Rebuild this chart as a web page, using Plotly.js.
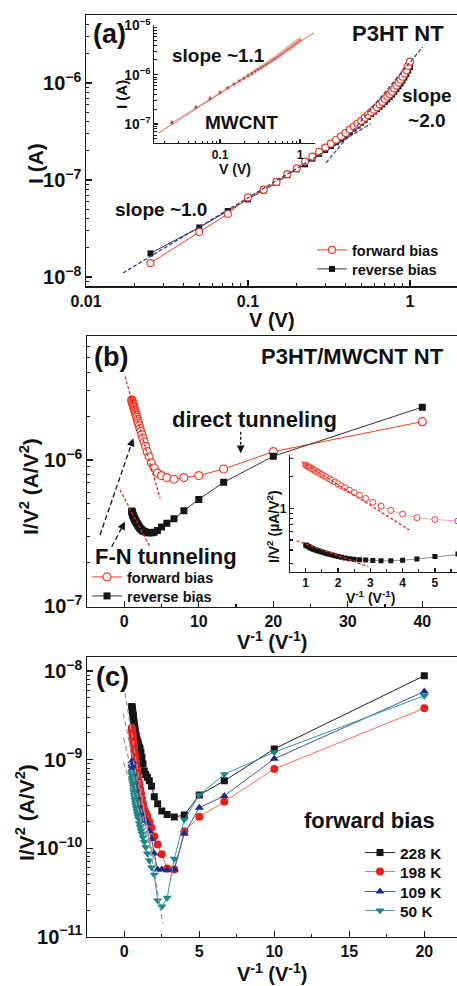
<!DOCTYPE html>
<html>
<head>
<meta charset="utf-8">
<script src="https://cdn.plot.ly/plotly-3.0.1.min.js"></script>
<style>
  html, body { margin: 0; padding: 0; background: #fff; overflow: hidden; }
  #chart { width: 470px; height: 986px; }
</style>
</head>
<body>
<div id="chart"></div>
<script>
// ---------------- Panel (a): I-V of P3HT NT (log-log) ----------------
const biasV = [0.025,0.05,0.075,0.1,0.125,0.15,0.175,0.2,0.225,0.25,0.275,0.3,0.325,0.35,0.375,0.4,0.425,0.45,0.475,0.5,
               0.525,0.55,0.575,0.6,0.625,0.65,0.675,0.7,0.725,0.75,0.775,0.8,0.825,0.85,0.875,0.9,0.925,0.95,0.975,1.0];
const fwdI_a = [1.39e-8,2.91e-8,4.47e-8,6.61e-8,7.94e-8,9.55e-8,1.15e-7,1.32e-7,1.55e-7,1.74e-7,1.95e-7,2.16e-7,2.37e-7,2.60e-7,2.82e-7,3.05e-7,3.31e-7,3.55e-7,3.80e-7,4.07e-7,
                4.37e-7,4.68e-7,5.01e-7,5.31e-7,5.62e-7,6.03e-7,6.38e-7,6.84e-7,7.24e-7,7.67e-7,8.13e-7,8.75e-7,9.40e-7,1.01e-6,1.08e-6,1.16e-6,1.25e-6,1.35e-6,1.50e-6,1.66e-6];
const revI_a = [1.75e-8,3.24e-8,4.79e-8,6.31e-8,7.76e-8,9.33e-8,1.12e-7,1.29e-7,1.45e-7,1.66e-7,1.86e-7,2.04e-7,2.24e-7,2.45e-7,2.66e-7,2.88e-7,3.13e-7,3.39e-7,3.63e-7,3.89e-7,
                4.17e-7,4.47e-7,4.79e-7,5.07e-7,5.37e-7,5.69e-7,6.03e-7,6.38e-7,6.76e-7,7.16e-7,7.60e-7,8.10e-7,8.65e-7,9.25e-7,9.90e-7,1.06e-6,1.14e-6,1.23e-6,1.34e-6,1.46e-6];
const fitLowV = [0.0169, 0.574],  fitLowI = [1.1e-8, 3.8e-7];     // slope ~1.0
const fitHighV = [0.303, 1.2],    fitHighI = [1.5e-7, 2.35e-6];   // slope ~2.0
// inset (a): MWCNT
const insetFwdI = [1.07e-7,2.19e-7,3.31e-7,4.37e-7,5.43e-7,6.46e-7,7.50e-7,8.51e-7,9.66e-7,1.07e-6,1.19e-6,1.30e-6,1.41e-6,1.53e-6,1.64e-6,1.76e-6,1.88e-6,2.00e-6,2.11e-6,2.24e-6,
                   2.37e-6,2.51e-6,2.63e-6,2.79e-6,2.92e-6,3.05e-6,3.20e-6,3.35e-6,3.47e-6,3.63e-6,3.76e-6,3.94e-6,4.07e-6,4.22e-6,4.42e-6,4.57e-6,4.73e-6,4.90e-6,5.01e-6,5.19e-6];
const insetRevI = [1.07e-7,2.17e-7,3.28e-7,4.35e-7,5.40e-7,6.42e-7,7.45e-7,8.45e-7,9.58e-7,1.06e-6,1.17e-6,1.28e-6,1.38e-6,1.49e-6,1.60e-6,1.71e-6,1.82e-6,1.93e-6,2.04e-6,2.16e-6,
                   2.28e-6,2.41e-6,2.53e-6,2.67e-6,2.80e-6,2.93e-6,3.07e-6,3.21e-6,3.33e-6,3.48e-6,3.61e-6,3.77e-6,3.90e-6,4.04e-6,4.22e-6,4.37e-6,4.52e-6,4.68e-6,4.80e-6,4.96e-6];
const insetFitV = [0.0174, 1.5], insetFitI = [6.7e-8, 7.1e-6];    // slope ~1.1

// ---------------- Panel (b): I/V^2 vs 1/V, P3HT/MWCNT NT ----------------
const invV_b = [1,1.026,1.053,1.081,1.111,1.143,1.176,1.212,1.25,1.29,1.333,1.379,1.429,1.481,1.538,1.6,1.667,1.739,1.818,1.905,
                2,2.105,2.222,2.353,2.5,2.667,2.857,3.077,3.333,3.636,4,4.444,5,5.714,6.667,8,10,13.333,20,40];
const fwdIV2_b = [2.58e-6,2.55e-6,2.52e-6,2.49e-6,2.47e-6,2.43e-6,2.40e-6,2.36e-6,2.32e-6,2.29e-6,2.24e-6,2.20e-6,2.16e-6,2.11e-6,2.07e-6,2.01e-6,1.96e-6,1.90e-6,1.84e-6,1.78e-6,
                  1.71e-6,1.64e-6,1.57e-6,1.49e-6,1.41e-6,1.33e-6,1.24e-6,1.14e-6,1.05e-6,9.55e-7,8.81e-7,8.13e-7,7.82e-7,7.57e-7,7.38e-7,7.57e-7,7.82e-7,8.67e-7,1.14e-6,1.83e-6];
const revIV2_b = [4.47e-7,4.42e-7,4.37e-7,4.32e-7,4.27e-7,4.22e-7,4.17e-7,4.12e-7,4.07e-7,4.03e-7,3.98e-7,3.94e-7,3.89e-7,3.85e-7,3.80e-7,3.76e-7,3.70e-7,3.65e-7,3.59e-7,3.53e-7,
                  3.47e-7,3.41e-7,3.36e-7,3.31e-7,3.27e-7,3.24e-7,3.21e-7,3.18e-7,3.16e-7,3.17e-7,3.20e-7,3.29e-7,3.47e-7,3.68e-7,3.96e-7,4.49e-7,5.37e-7,7.03e-7,1.06e-6,2.30e-6];
const fnFwdU = [0.09, 4.8],   fnFwdY = [3.72e-6, 5.47e-7];
const fnRevU = [-0.58, 3.36], fnRevY = [6.24e-7, 2.58e-7];
const fnInFwdU = [0.876, 4.21], fnInFwdY = [2.78e-6, 6.21e-7];
const fnInRevU = [0.72, 2.94],  fnInRevY = [4.91e-7, 2.78e-7];

// ---------------- Panel (c): forward bias at several temperatures ----------------
const invV_c = [0.5,0.513,0.526,0.541,0.556,0.571,0.588,0.606,0.625,0.645,0.667,0.69,0.714,0.741,0.769,0.8,0.833,0.87,0.909,0.952,
                1,1.053,1.111,1.176,1.25,1.333,1.429,1.538,1.667,1.818,2,2.222,2.5,2.857,3.333,4,5,6.667,10,20];
const c228K = [3.98e-9,3.89e-9,3.80e-9,3.63e-9,3.47e-9,3.31e-9,3.16e-9,3.02e-9,2.82e-9,2.63e-9,2.45e-9,2.29e-9,2.19e-9,2.04e-9,1.91e-9,1.82e-9,1.70e-9,1.62e-9,1.58e-9,1.48e-9,
               1.38e-9,1.32e-9,1.20e-9,1.05e-9,8.91e-10,7.41e-10,6.76e-10,6.31e-10,5.75e-10,5.01e-10,3.80e-10,3.16e-10,2.63e-10,2.40e-10,2.24e-10,2.37e-10,3.98e-10,5.75e-10,1.32e-9,8.85e-9];
const c198K = [2.29e-9,2.19e-9,2.09e-9,1.95e-9,1.86e-9,1.74e-9,1.66e-9,1.55e-9,1.45e-9,1.35e-9,1.26e-9,1.17e-9,1.10e-9,1.00e-9,9.33e-10,8.51e-10,7.76e-10,7.08e-10,6.46e-10,5.75e-10,
               5.25e-10,4.68e-10,4.17e-10,3.63e-10,3.16e-10,2.75e-10,2.51e-10,2.29e-10,2.00e-10,1.70e-10,1.35e-10,1.10e-10,8.51e-11,5.89e-11,5.75e-11,1.55e-10,2.26e-10,3.35e-10,7.83e-10,3.80e-9];
const c109K = [9.55e-10,8.91e-10,8.51e-10,7.94e-10,7.41e-10,7.08e-10,6.61e-10,6.17e-10,5.75e-10,5.37e-10,5.01e-10,4.68e-10,4.37e-10,4.07e-10,3.80e-10,3.55e-10,3.31e-10,3.16e-10,3.02e-10,2.82e-10,
               2.69e-10,2.57e-10,2.45e-10,2.34e-10,2.24e-10,2.14e-10,2.04e-10,1.91e-10,1.55e-10,1.26e-10,8.71e-11,5.75e-11,5.75e-11,5.62e-11,5.75e-11,1.45e-10,2.86e-10,3.89e-10,1.02e-9,5.85e-9];
const c50K  = [7.24e-10,6.92e-10,6.61e-10,6.17e-10,5.89e-10,5.50e-10,5.25e-10,4.90e-10,4.57e-10,4.27e-10,3.98e-10,3.72e-10,3.47e-10,3.24e-10,3.02e-10,2.82e-10,2.63e-10,2.45e-10,2.29e-10,2.14e-10,
               1.91e-10,1.74e-10,1.58e-10,1.45e-10,1.32e-10,1.17e-10,1.02e-10,8.71e-11,7.24e-11,6.03e-11,5.01e-11,2.57e-11,2.19e-11,2.75e-11,7.59e-11,2.09e-10,3.98e-10,6.82e-10,1.21e-9,5.26e-9];
const tempLabels = ['228 K', '198 K', '109 K', '50 K'];
const cFitU = [[0.05, 2.56], [-0.07, 2.16], [-0.05, 1.9], [-0.05, 1.7]];
const cFitY = [[5.62e-9, 1.41e-11], [3.31e-9, 5.5e-11], [1.74e-9, 7.94e-11], [9.33e-10, 1.0e-10]];

// ---------------- layout helpers ----------------
const W = 470, H = 986;
const FONT = 'Liberation Sans, Arial, Helvetica, sans-serif';
const px = v => v / W;
const py = v => 1 - v / H;
const RED = '#f03c2a', BLACK = '#151515', BLUE = '#2e3a8c';

function ax(extra) {
  return Object.assign({
    showline: true, linecolor: '#1a1a1a', linewidth: 1.5,
    ticks: 'inside', ticklen: 6, tickwidth: 1.2, tickcolor: '#1a1a1a',
    showgrid: false, zeroline: false, fixedrange: true,
    tickfont: { family: FONT, size: 16, color: '#111', weight: 'bold' }
  }, extra);
}
const minorLog = { ticks: 'inside', ticklen: 3, tickwidth: 1, tickcolor: '#1a1a1a', dtick: 'D1', showgrid: false };

function ann(text, x, y, size, extra) {
  return Object.assign({
    xref: 'paper', yref: 'paper', x: px(x), y: py(y), xanchor: 'center', yanchor: 'middle',
    showarrow: false, text: '<b>' + text + '</b>',
    font: { family: FONT, size: size, color: '#111' }
  }, extra || {});
}
// one legend box per row, so that each row sits where the reference puts it
function legendRow(x, y, size) {
  return { x: px(x), y: py(y), xanchor: 'left', yanchor: 'middle', bgcolor: 'rgba(0,0,0,0)',
    borderwidth: 0, font: { family: FONT, size: size, color: '#111', weight: 'bold' } };
}

const traces = [];
// (a) main
traces.push({ x: biasV, y: revI_a, xaxis: 'x', yaxis: 'y', mode: 'lines+markers', name: 'reverse bias', legend: 'legend2',
  line: { color: '#333', width: 1 }, marker: { symbol: 'square', size: 6, color: BLACK } });
traces.push({ x: biasV, y: fwdI_a, xaxis: 'x', yaxis: 'y', mode: 'lines+markers', name: 'forward bias', legend: 'legend',
  line: { color: RED, width: 1 }, marker: { symbol: 'circle', size: 7, color: '#fff', line: { color: RED, width: 1.2 } } });
[[fitLowV, fitLowI], [fitHighV, fitHighI]].forEach(f => traces.push({
  x: f[0], y: f[1], xaxis: 'x', yaxis: 'y', mode: 'lines', showlegend: false,
  line: { color: BLUE, width: 1.2, dash: '4px,2px' } }));
// (a) inset
traces.push({ x: biasV, y: insetRevI, xaxis: 'x2', yaxis: 'y2', mode: 'lines+markers', showlegend: false,
  line: { color: '#888', width: 0.7 }, marker: { symbol: 'square', size: 2.5, color: '#555' } });
traces.push({ x: biasV, y: insetFwdI, xaxis: 'x2', yaxis: 'y2', mode: 'markers', showlegend: false,
  marker: { symbol: 'circle-open', size: 4, color: '#f2a59c', line: { width: 0.8 } } });
traces.push({ x: insetFitV, y: insetFitI, xaxis: 'x2', yaxis: 'y2', mode: 'lines', showlegend: false,
  line: { color: '#f0604c', width: 1 } });

// (b) main
traces.push({ x: invV_b, y: fwdIV2_b, xaxis: 'x3', yaxis: 'y3', mode: 'lines+markers', name: 'forward bias', legend: 'legend3',
  line: { color: RED, width: 1 }, marker: { symbol: 'circle', size: 8, color: '#fff', line: { color: RED, width: 1.2 } } });
traces.push({ x: invV_b, y: revIV2_b, xaxis: 'x3', yaxis: 'y3', mode: 'lines+markers', name: 'reverse bias', legend: 'legend4',
  line: { color: '#333', width: 1 }, marker: { symbol: 'square', size: 7, color: BLACK } });
[[fnFwdU, fnFwdY], [fnRevU, fnRevY]].forEach(f => traces.push({
  x: f[0], y: f[1], xaxis: 'x3', yaxis: 'y3', mode: 'lines', showlegend: false,
  line: { color: '#e8281c', width: 1.3, dash: '3px,2px' } }));
// (b) inset
traces.push({ x: invV_b, y: fwdIV2_b, xaxis: 'x4', yaxis: 'y4', mode: 'lines+markers', showlegend: false,
  line: { color: '#f59a8f', width: 0.8 }, marker: { symbol: 'circle', size: 6, color: '#fff', line: { color: RED, width: 1 } } });
traces.push({ x: invV_b, y: revIV2_b, xaxis: 'x4', yaxis: 'y4', mode: 'lines+markers', showlegend: false,
  line: { color: '#777', width: 0.8 }, marker: { symbol: 'square', size: 5, color: BLACK } });
[[fnInFwdU, fnInFwdY], [fnInRevU, fnInRevY]].forEach(f => traces.push({
  x: f[0], y: f[1], xaxis: 'x4', yaxis: 'y4', mode: 'lines', showlegend: false,
  line: { color: '#e8281c', width: 1.3, dash: '3px,2px' } }));

// (c)
const cSeries = [c228K, c198K, c109K, c50K];
const cMarkers = [
  { symbol: 'square', size: 7, color: BLACK, line: '#222' },
  { symbol: 'circle', size: 8, color: '#ee1d1d', line: '#f26a58' },
  { symbol: 'triangle-up', size: 8, color: '#1c2a8c', line: '#4654a6' },
  { symbol: 'triangle-down', size: 8, color: '#17888a', line: '#2d9d9d' }
];
cSeries.forEach((s, i) => traces.push({
  x: invV_c, y: s, xaxis: 'x5', yaxis: 'y5', mode: 'lines+markers', name: tempLabels[i], legend: 'legend' + (5 + i),
  line: { color: cMarkers[i].line, width: 1 },
  marker: { symbol: cMarkers[i].symbol, size: cMarkers[i].size, color: cMarkers[i].color }
}));
cFitU.forEach((u, i) => traces.push({
  x: u, y: cFitY[i], xaxis: 'x5', yaxis: 'y5', mode: 'lines', showlegend: false,
  line: { color: '#9a9a9a', width: 1.3, dash: '5px,3px' } }));

const layout = {
  width: W, height: H, margin: { l: 0, r: 0, t: 0, b: 0 },
  paper_bgcolor: '#fff', plot_bgcolor: 'rgba(0,0,0,0)',
  font: { family: FONT },
  xaxis: ax({ type: 'log', domain: [px(86), px(466)], range: [-2, 0.346], anchor: 'y', mirror: true,
    tickvals: [0.01, 0.1, 1], ticktext: ['0.01', '0.1', '1'], minor: minorLog }),
  yaxis: ax({ type: 'log', domain: [py(286), py(15)], range: [-8.093, -5.299], anchor: 'x', mirror: true,
    dtick: 1, exponentformat: 'power', minor: minorLog }),
  xaxis2: ax({ type: 'log', domain: [px(154), px(315)], range: [-1.825, 0.1875], anchor: 'y2',
    linewidth: 1.2, ticklen: 4, tickvals: [0.1, 1], ticktext: ['0.1', '1'],
    tickfont: { family: FONT, size: 12, color: '#111', weight: 'bold' },
    minor: Object.assign({}, minorLog, { ticklen: 2.5 }) }),
  yaxis2: ax({ type: 'log', domain: [py(143), py(25)], range: [-7.384, -4.99], anchor: 'x2',
    linewidth: 1.2, ticklen: 4, dtick: 1, exponentformat: 'power',
    tickfont: { family: FONT, size: 11, color: '#111', weight: 'bold' },
    minor: Object.assign({}, minorLog, { ticklen: 2.5 }) }),
  xaxis3: ax({ domain: [px(87), px(466)], range: [-5.01, 45.87], anchor: 'y3', mirror: true,
    dtick: 10, tick0: 0, minor: { ticks: 'inside', ticklen: 3, dtick: 5, tickcolor: '#1a1a1a' } }),
  yaxis3: ax({ type: 'log', domain: [py(606.7), py(336)], range: [-7.005, -5.151], anchor: 'x3', mirror: true,
    dtick: 1, exponentformat: 'power', minor: minorLog }),
  xaxis4: ax({ domain: [px(290), px(466)], range: [0.514, 5.963], anchor: 'y4', linewidth: 1.2, ticklen: 4,
    dtick: 1, tick0: 0, tickfont: { family: FONT, size: 12, color: '#111', weight: 'bold' },
    minor: { ticks: 'inside', ticklen: 2.5, dtick: 0.5, tickcolor: '#1a1a1a' } }),
  yaxis4: ax({ type: 'log', domain: [py(571.7), py(455)], range: [-6.604, -5.492], anchor: 'x4', linewidth: 1.2, ticklen: 4,
    tickmode: 'array', tickvals: [1e-6], ticktext: ['1'],
    tickfont: { family: FONT, size: 12, color: '#111', weight: 'bold' },
    minor: { ticks: 'inside', ticklen: 2.5, tickcolor: '#1a1a1a', tickmode: 'array',
      tickvals: [3e-7, 4e-7, 5e-7, 6e-7, 7e-7, 8e-7, 9e-7, 2e-6, 3e-6] } }),
  xaxis5: ax({ domain: [px(87), px(466)], range: [-2.487, 22.78], anchor: 'y5', mirror: true,
    dtick: 5, tick0: 0, minor: { ticks: 'inside', ticklen: 3, dtick: 2.5, tickcolor: '#1a1a1a' } }),
  yaxis5: ax({ type: 'log', domain: [py(936.7), py(657)], range: [-11.0, -7.842], anchor: 'x5', mirror: true,
    dtick: 1, exponentformat: 'power', minor: minorLog }),
  legend:  legendRow(312, 250, 14.5),
  legend2: legendRow(312, 269, 14.5),
  legend3: legendRow(87, 577, 14.5),
  legend4: legendRow(87, 596, 14.5),
  legend5: legendRow(360, 853, 15.5),
  legend6: legendRow(360, 872, 15.5),
  legend7: legendRow(360, 892, 15.5),
  legend8: legendRow(360, 911, 15.5),
  annotations: [
    // (a)
    ann('(a)', 109, 34, 27),
    ann('P3HT NT', 398, 33, 22),
    ann('slope ~1.1', 218, 55, 19),
    ann('MWCNT', 241, 122, 19),
    ann('slope ~1.0', 161, 209, 19),
    ann('slope<br>~2.0', 427, 108, 19),
    ann('I (A)', 35, 164, 21, { textangle: -90 }),
    ann('V (V)', 272, 320, 20),
    ann('I (A)', 122, 95, 15, { textangle: -90 }),
    ann('V (V)', 235, 169, 14),
    // (b)
    ann('(b)', 111, 357, 27),
    ann('P3HT/MWCNT NT', 352, 357, 22),
    ann('direct tunneling', 255, 419, 22),
    ann('F-N tunneling', 166, 556, 22),
    ann('I/V<sup>2</sup> (A/V<sup>2</sup>)', 29, 487, 21, { textangle: -90 }),
    ann('V<sup>-1</sup> (V<sup>-1</sup>)', 272, 640, 20),
    ann('I/V<sup>2</sup> (\u00b5A/V<sup>2</sup>)', 273, 527, 14, { textangle: -90 }),
    ann('V<sup>-1</sup> (V<sup>-1</sup>)', 370, 597, 14),
    // (c)
    ann('(c)', 112, 677, 27),
    ann('forward bias', 369, 820, 22),
    ann('I/V<sup>2</sup> (A/V<sup>2</sup>)', 25, 813, 21, { textangle: -90 }),
    ann('V<sup>-1</sup> (V<sup>-1</sup>)', 272, 972, 20),
    // arrowheads
    { xref: 'paper', yref: 'paper', x: px(133.3), y: py(438.3), ax: -2.6, ay: 7.6, showarrow: true, text: '',
      arrowhead: 2, arrowsize: 1.2, arrowwidth: 1.3, arrowcolor: '#111' },
    { xref: 'paper', yref: 'paper', x: px(125), y: py(521.7), ax: -3.8, ay: 7.1, showarrow: true, text: '',
      arrowhead: 2, arrowsize: 1.2, arrowwidth: 1.3, arrowcolor: '#111' },
    { xref: 'paper', yref: 'paper', x: px(240.7), y: py(453.3), ax: 0, ay: -8, showarrow: true, text: '',
      arrowhead: 2, arrowsize: 1.2, arrowwidth: 1.3, arrowcolor: '#111' }
  ],
  shapes: [
    { type: 'line', xref: 'paper', yref: 'paper', x0: px(100), y0: py(535), x1: px(132.5), y1: py(441),
      line: { color: '#111', width: 1.3, dash: '5px,3px' } },
    { type: 'line', xref: 'paper', yref: 'paper', x0: px(111.7), y0: py(546.7), x1: px(124), y1: py(523.5),
      line: { color: '#111', width: 1.3, dash: '5px,3px' } },
    { type: 'line', xref: 'paper', yref: 'paper', x0: px(240.7), y0: py(431.7), x1: px(240.7), y1: py(451),
      line: { color: '#111', width: 1.3, dash: '3px,2px' } }
  ]
};

Plotly.newPlot('chart', traces, layout, { staticPlot: true, displayModeBar: false });
</script>
</body>
</html>
